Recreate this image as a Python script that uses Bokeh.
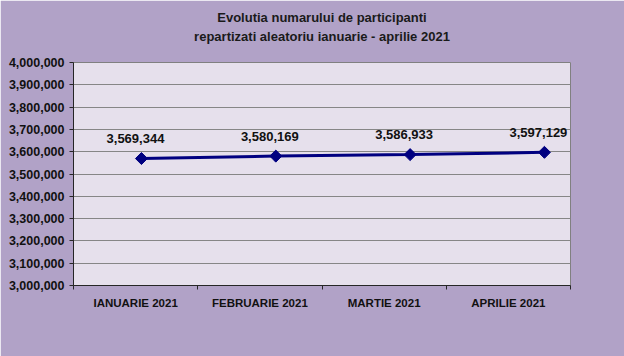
from bokeh.plotting import figure
from bokeh.models import (Range1d, FixedTicker, NumeralTickFormatter, ColumnDataSource,
                          LabelSet, Title)
from bokeh.core.properties import value
from bokeh.embed import file_html
from bokeh.resources import INLINE

months = ["IANUARIE 2021", "FEBRUARIE 2021", "MARTIE 2021", "APRILIE 2021"]
participants = [3569344, 3580169, 3586933, 3597129]
y_ticks = [3000000 + 100000 * i for i in range(11)]
title_lines = ["Evolutia numarului de participanti", "repartizati aleatoriu ianuarie - aprilie 2021"]

BG = "#B1A2C7"
FRAME = "#E6E0EC"
FONT = "Liberation Sans"

p = figure(width=624, height=356, output_backend="svg", toolbar_location=None,
           x_range=Range1d(0, len(months)), y_range=Range1d(y_ticks[0], y_ticks[-1]),
           min_border_left=73, min_border_right=54, min_border_top=62, min_border_bottom=71)
p.extra_x_ranges = {"pts": Range1d(-0.506, 3.194)}

p.background_fill_color = FRAME
p.border_fill_color = BG
p.outline_line_color = "#808080"
p.outline_line_width = 1
p.title.visible = False

# two-line title above the frame (first added sits nearest the frame)
p.add_layout(Title(text=" ", text_font=FONT, text_font_size="13px", standoff=0), "above")
for line, so in zip(reversed(title_lines), [4, 0]):
    p.add_layout(Title(text=line, align="center", offset=-15, standoff=so,
                       text_font=FONT, text_font_size="13px", text_font_style="bold",
                       text_color="#1a1a1a"), "above")

# axes
xa = p.xaxis[0]
xa.ticker = FixedTicker(ticks=[i + 0.5 for i in range(len(months))],
                        minor_ticks=list(range(len(months) + 1)))
xa.major_label_overrides = {i + 0.5: m for i, m in enumerate(months)}
xa.major_tick_out = 0
xa.major_tick_in = 0
xa.minor_tick_out = 4
xa.minor_tick_in = 0
xa.minor_tick_line_color = "#262626"
xa.axis_line_color = "#262626"
xa.major_label_text_font = FONT
xa.major_label_text_font_size = "11.5px"
xa.major_label_text_font_style = "bold"
xa.major_label_text_color = "#111111"
xa.major_label_standoff = 7

ya = p.yaxis[0]
ya.ticker = FixedTicker(ticks=y_ticks, minor_ticks=[])
ya.formatter = NumeralTickFormatter(format="0,0")
ya.major_tick_out = 4
ya.major_tick_in = 0
ya.minor_tick_out = 0
ya.minor_tick_in = 0
ya.major_tick_line_color = "#262626"
ya.axis_line_color = "#262626"
ya.major_label_text_font = FONT
ya.major_label_text_font_size = "12.5px"
ya.major_label_text_font_style = "bold"
ya.major_label_text_color = "#111111"
ya.major_label_standoff = 5

p.xgrid.visible = False
p.ygrid.grid_line_color = "#868686"
p.ygrid.grid_line_width = 1

src = ColumnDataSource(dict(x=list(range(len(participants))), y=participants,
                            lbl=[f"{v:,}" for v in participants]))
p.line("x", "y", source=src, x_range_name="pts", line_color="#000080", line_width=3)
p.scatter("x", "y", source=src, x_range_name="pts", marker="square", angle=0.7854,
          size=8.5, fill_color="#000080", line_color="#000080")

p.add_layout(LabelSet(x="x", y="y", text="lbl", source=src, x_range_name="pts",
                      x_offset=-6, y_offset=20, text_align="center", text_baseline="middle",
                      text_font=value(FONT), text_font_size=value("13px"),
                      text_font_style="bold", text_color="#111111"))

open("out.html", "w").write(file_html(p, INLINE))
